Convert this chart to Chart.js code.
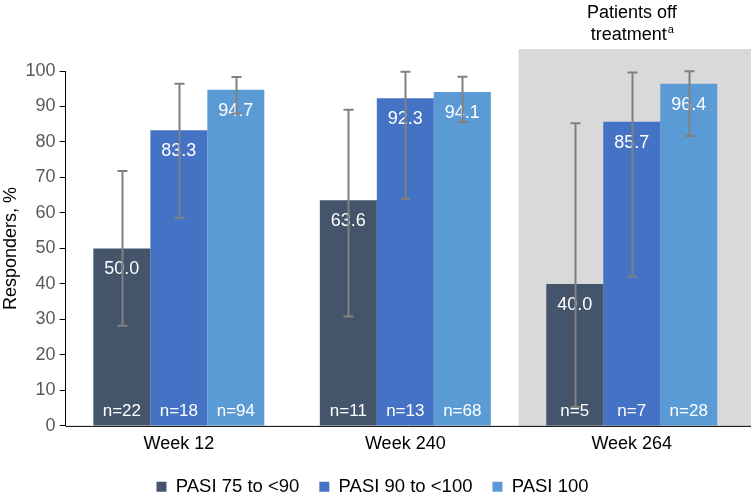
<!DOCTYPE html>
<html><head><meta charset="utf-8">
<script src="https://cdn.jsdelivr.net/npm/chart.js@4/dist/chart.umd.min.js"></script>
<style>html,body{margin:0;padding:0;background:#fff}#wrap{width:751px;height:498px;position:relative}</style>
</head><body><div id="wrap"><canvas id="c"></canvas></div>
<script>
const categories = ["Week 12", "Week 240", "Week 264"];
const seriesNames = ["PASI 75 to <90", "PASI 90 to <100", "PASI 100"];
const pasi75 = [50.0, 63.6, 40.0];
const pasi90 = [83.3, 92.3, 85.7];
const pasi100 = [94.7, 94.1, 96.4];
const pasi75Low = [28.2, 30.8, 5.3];
const pasi75High = [71.8, 89.1, 85.3];
const pasi90Low = [58.6, 64.0, 42.1];
const pasi90High = [96.4, 99.8, 99.6];
const pasi100Low = [88.0, 85.6, 81.7];
const pasi100High = [98.3, 98.4, 99.9];
const pasi75N = [22, 11, 5];
const pasi90N = [18, 13, 7];
const pasi100N = [94, 68, 28];
const yTicks = [0,10,20,30,40,50,60,70,80,90,100];
const offTreatmentCategory = 2;

const colors = ["#44546a", "#4472c4", "#5b9bd5"];
const FONT = "'Liberation Sans', Arial, sans-serif";
const lows = [pasi75Low, pasi90Low, pasi100Low];
const highs = [pasi75High, pasi90High, pasi100High];
const ns = [pasi75N, pasi90N, pasi100N];

const overlay = {
  id: 'overlay',
  beforeDatasetsDraw(chart) {
    const {ctx, chartArea, scales:{x}} = chart;
    const w = (x.getPixelForValue(1) - x.getPixelForValue(0));
    const left = x.getPixelForValue(offTreatmentCategory) - w/2;
    ctx.save();
    ctx.fillStyle = '#d9d9d9';
    ctx.fillRect(left, chartArea.top - 22, chart.width - left, chartArea.bottom - chartArea.top + 22);
    ctx.fillStyle = '#000';
    ctx.font = '18px ' + FONT;
    ctx.textAlign = 'center';
    ctx.textBaseline = 'middle';
    const cx = x.getPixelForValue(offTreatmentCategory);
    ctx.fillText('Patients off', cx, 13);
    const t = 'treatment';
    const tw = ctx.measureText(t).width;
    ctx.font = '11px ' + FONT;
    const sw = ctx.measureText('a').width;
    ctx.font = '18px ' + FONT;
    ctx.textAlign = 'left';
    const start = cx - (tw + sw)/2;
    ctx.fillText(t, start, 35);
    ctx.font = '11px ' + FONT;
    ctx.fillText('a', start + tw + 1, 30);
    ctx.restore();
  },
  afterDatasetsDraw(chart) {
    const {ctx, chartArea, scales:{x, y}} = chart;
    ctx.save();
    ctx.strokeStyle = '#000';
    ctx.lineWidth = 1;
    ctx.beginPath();
    ctx.moveTo(chartArea.left, chartArea.bottom + 0.5);
    ctx.lineTo(chart.width, chartArea.bottom + 0.5);
    ctx.stroke();
    chart.data.datasets.forEach((ds, di) => {
      const meta = chart.getDatasetMeta(di);
      meta.data.forEach((el, i) => {
        ctx.fillStyle = '#fff';
        ctx.textAlign = 'center';
        ctx.textBaseline = 'middle';
        ctx.font = '18px ' + FONT;
        ctx.fillText(ds.data[i].toFixed(1), el.x, el.y + 21);
        ctx.font = '17px ' + FONT;
        ctx.fillText('n=' + ns[di][i], el.x, chartArea.bottom - 15);
      });
    });
    chart.data.datasets.forEach((ds, di) => {
      const meta = chart.getDatasetMeta(di);
      meta.data.forEach((el, i) => {
        const yh = y.getPixelForValue(highs[di][i]);
        const yl = y.getPixelForValue(lows[di][i]);
        const xx = Math.round(el.x) + 0.5;
        ctx.strokeStyle = '#808080';
        ctx.lineWidth = 2;
        ctx.beginPath();
        ctx.moveTo(xx, yh); ctx.lineTo(xx, yl);
        ctx.moveTo(xx - 5, yh); ctx.lineTo(xx + 5, yh);
        ctx.moveTo(xx - 5, yl); ctx.lineTo(xx + 5, yl);
        ctx.stroke();
      });
    });
    ctx.restore();
  }
};

new Chart(document.getElementById('c'), {
  type: 'bar',
  data: {
    labels: categories,
    datasets: [pasi75, pasi90, pasi100].map((d, i) => ({
      label: seriesNames[i], data: d, backgroundColor: colors[i],
      categoryPercentage: 0.755, barPercentage: 1.0, borderWidth: 0
    }))
  },
  options: {
    responsive: true, maintainAspectRatio: false, animation: false,
    layout: { padding: { top: 71, right: 6, left: 0, bottom: -8 } },
    plugins: {
      tooltip: { enabled: false },
      legend: {
        position: 'bottom',
        labels: { boxWidth: 10, boxHeight: 10, padding: 20, color: '#000', font: { family: FONT, size: 18.5 } }
      }
    },
    scales: {
      x: {
        grid: { display: false },
        border: { display: false },
        ticks: { color: '#000', font: { family: FONT, size: 18 }, padding: -1 },
        afterFit: (s) => { s.height += 4; }
      },
      y: {
        min: 0, max: 100,
        afterBuildTicks: (s) => { s.ticks = yTicks.map(v => ({ value: v })); },
        grid: { drawOnChartArea: false, tickLength: 6, color: '#000' },
        border: { color: '#000', width: 1 },
        ticks: { color: '#595959', font: { family: FONT, size: 18 }, padding: 4 },
        title: { display: true, text: 'Responders, %', color: '#000', font: { family: FONT, size: 18 }, padding: { top: 0, bottom: 0 } }
      }
    }
  },
  plugins: [overlay]
});
</script></body></html>
